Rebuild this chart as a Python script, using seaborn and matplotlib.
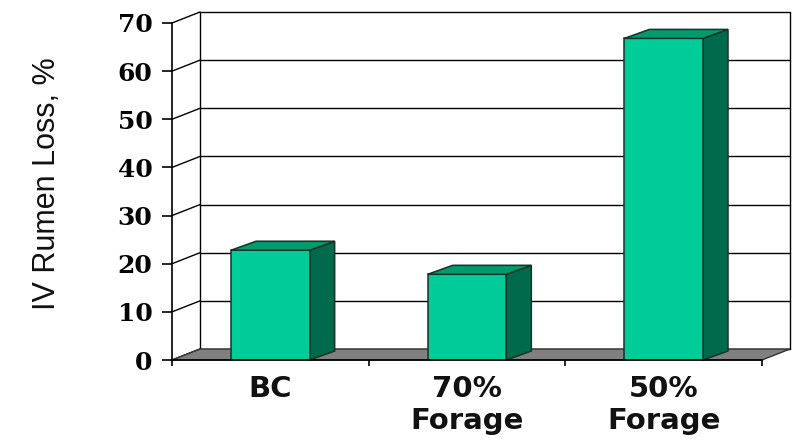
import numpy as np
import pandas as pd
import seaborn as sns
import matplotlib.pyplot as plt
from matplotlib.patches import Polygon

sns.set_theme(style="white")

# Data
groups = ["BC", "70%\nForage", "50%\nForage"]
loss = [22.8, 17.8, 66.8]
y_ticks = [0, 10, 20, 30, 40, 50, 60, 70]

# Colours of the pseudo-3D bars
front_color = "#00cc99"
top_color = "#009a6d"
side_color = "#006b4c"
floor_color = "#808080"


def main():
    df = pd.DataFrame({"group": groups, "loss": loss})

    fig = plt.figure(figsize=(7.94, 4.41), dpi=100)
    fig.patch.set_facecolor("white")
    ax = fig.add_axes([172 / 794, 81 / 441, 590 / 794, 337 / 441])
    ax.patch.set_visible(False)

    sns.barplot(data=df, x="group", y="loss", color=front_color, saturation=1,
                width=0.4, edgecolor="#163326", linewidth=1.1, ax=ax, zorder=4)

    ax.set_xlim(-0.5, 2.5)
    ax.set_ylim(0, 70)

    # pixel -> data conversion for the depth offsets
    ax_w = ax.get_position().width * fig.get_figwidth() * fig.dpi
    ax_h = ax.get_position().height * fig.get_figheight() * fig.dpi
    px_x = 3 / ax_w
    px_y = 70 / ax_h
    wdx, wdy = 28 * px_x, 11 * px_y   # wall depth
    bdx, bdy = 25 * px_x, 9 * px_y    # bar depth

    x0, x1 = -0.5, 2.5
    line_kw = dict(color="black", lw=1.0, clip_on=False, zorder=1)

    # back wall grid + left wall diagonals
    for t in y_ticks:
        ax.plot([x0 + wdx, x1 + wdx], [t + wdy, t + wdy], **line_kw)
        ax.plot([x0, x0 + wdx], [t, t + wdy], **line_kw)
    ax.plot([x0 + wdx, x0 + wdx], [wdy, 70 + wdy], **line_kw)
    ax.plot([x1 + wdx, x1 + wdx], [wdy, 70 + wdy], **line_kw)

    # floor
    floor = Polygon([(x0, 0), (x1, 0), (x1 + wdx, wdy), (x0 + wdx, wdy)],
                    closed=True, facecolor=floor_color, edgecolor="#333333",
                    lw=1.0, clip_on=False, zorder=2)
    ax.add_patch(floor)

    # side and top faces of each bar, from the bars seaborn drew
    for p in ax.patches[:len(groups)]:
        if p is floor:
            continue
        xl = p.get_x()
        xr = xl + p.get_width()
        h = p.get_height()
        side = Polygon([(xr, 0), (xr + bdx, bdy), (xr + bdx, h + bdy), (xr, h)],
                       closed=True, facecolor=side_color, edgecolor="#163326",
                       lw=1.1, clip_on=False, zorder=3)
        top = Polygon([(xl, h), (xr, h), (xr + bdx, h + bdy), (xl + bdx, h + bdy)],
                      closed=True, facecolor=top_color, edgecolor="#163326",
                      lw=1.1, clip_on=False, zorder=4)
        ax.add_patch(side)
        ax.add_patch(top)

    # axes / spines
    for s in ["top", "right"]:
        ax.spines[s].set_visible(False)
    for s in ["left", "bottom"]:
        ax.spines[s].set_color("black")
        ax.spines[s].set_linewidth(1.2)
        ax.spines[s].set_zorder(5)

    ax.set_yticks(y_ticks)
    ax.set_yticklabels([str(t) for t in y_ticks], fontfamily="DejaVu Serif",
                       fontweight="bold", fontsize=18, color="#222222")
    ax.tick_params(axis="y", direction="out", length=7, width=1.2, pad=7,
                   colors="black", left=True)

    ax.set_xticks([0, 1, 2])
    ax.set_xticklabels(groups, fontfamily="DejaVu Sans", fontweight="bold",
                       fontsize=21, color="#111111", linespacing=1.15)
    ax.set_xticks([-0.5, 0.5, 1.5, 2.5], minor=True)
    ax.tick_params(axis="x", which="major", length=0, pad=11)
    ax.tick_params(axis="x", which="minor", direction="out", length=4.5,
                   width=1.2, colors="black", bottom=True)

    ax.set_xlabel("")
    ax.set_ylabel("")
    fig.text(47 / 794, 1 - 184 / 441, "IV Rumen Loss, %", rotation=90,
             ha="center", va="center", fontsize=22, color="#111111",
             family=["Liberation Sans Narrow", "Liberation Sans"])

    fig.savefig("out.png", dpi=100)
    plt.close(fig)


if __name__ == "__main__":
    main()
